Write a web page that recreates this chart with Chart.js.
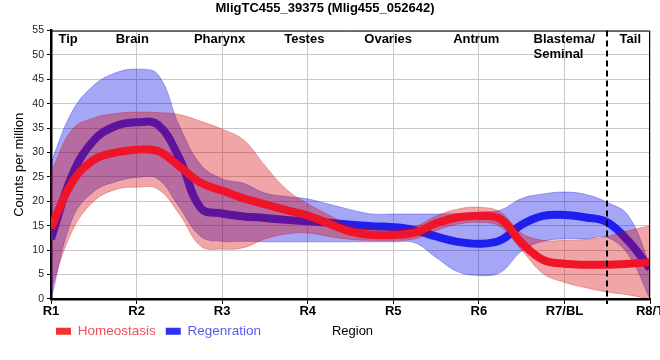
<!DOCTYPE html>
<html lang="en">
<head>
<meta charset="UTF-8">
<title>MligTC455_39375</title>
<script src="https://cdn.jsdelivr.net/npm/chart.js"></script>
<style>
body { margin: 0; padding: 0; background: #fff; overflow: hidden; }
#wrap { width: 660px; height: 360px; }
</style>
</head>
<body>
<div id="wrap"><canvas id="geneChart" width="660" height="360"></canvas></div>
<script>
// positions along the body, 0 = R1 ... 7 = R8/T
const xs = [0, 0.25, 0.5, 0.75, 1, 1.25, 1.5, 1.75, 2, 2.25, 2.5, 2.75, 3, 3.25, 3.5, 3.75,
            4, 4.25, 4.5, 4.75, 5, 5.25, 5.5, 5.75, 6, 6.25, 6.5, 6.75, 7];
const tickLabels = ['R1', 'R2', 'R3', 'R4', 'R5', 'R6', 'R7/BL', 'R8/T'];
const regionNames = ['Tip', 'Brain', 'Pharynx', 'Testes', 'Ovaries', 'Antrum', ['Blastema/', 'Seminal'], 'Tail'];
const seriesNames = ['Homeostasis', 'Regenration'];

const homeoMean = [14.5, 24, 28.5, 30, 30.6, 30.3, 27.2, 23.8, 22.2, 20.6, 19.4, 18.2, 17.1, 15.4, 13.8, 13.1,
                   13.1, 13.6, 15.5, 16.7, 17, 16.4, 11.5, 8, 7.2, 7, 7, 7.2, 7.5];
const homeoHigh = [26, 34.8, 37.1, 38, 38.3, 38.2, 37.8, 36.4, 34.8, 32.6, 27.3, 22.5, 19.5, 17.2, 15, 14.4,
                   14.3, 14.8, 17, 18.4, 18.8, 17.8, 13.5, 12, 12, 12.2, 12.8, 14, 15];
const homeoLow  = [2, 14, 20, 22.4, 22.9, 22.5, 17.4, 10.8, 10.2, 10.5, 12.3, 13.3, 13.5, 12.8, 12.2, 12,
                   12, 12.3, 14, 15.3, 15.7, 14.8, 10, 5.2, 3.4, 2.3, 1.4, 0.8, 0];
const regenMean = [12.3, 25.5, 32.5, 35.4, 36.2, 35.7, 28.8, 18.6, 17.5, 16.9, 16.6, 16.2, 15.9, 15.6, 15.2, 14.9,
                   14.7, 14.1, 12.8, 11.7, 11.3, 12, 15.2, 17, 17.2, 16.7, 15.7, 11.8, 6.2];
const regenHigh = [28, 38.5, 43.8, 46.3, 47.1, 46, 35.5, 27.5, 24.6, 23.7, 21.7, 21, 20.5, 19.4, 18.3, 17.4,
                   17.4, 17.4, 17.4, 17.5, 17.8, 18.2, 20.6, 21.5, 21.9, 21.4, 19.8, 17, 7];
const regenLow  = [0, 16.5, 22, 24, 24.9, 24.6, 18.8, 12.8, 11.8, 11.8, 11.7, 11.7, 11.7, 11.7, 11.7, 11.7,
                   11.7, 11.5, 8.5, 5.6, 4.8, 5.4, 9.8, 11.8, 12.3, 12.3, 12.6, 9, 0];

const FONT = "'Liberation Sans', Arial, sans-serif";

function pts(vals) {
  return xs.map((x, i) => ({ x: x, y: vals[i] }));
}

// dashed divider, frame, region names and the x title
const overlay = {
  id: 'overlay',
  afterLayout(chart) {
    chart.legend.left -= 5;
    chart.legend.top -= 5;
  },
  afterDatasetsDraw(chart) {
    const c = chart.ctx;
    const a = chart.chartArea;
    const xs_ = chart.scales.x;
    c.save();
    // frame top / right
    c.strokeStyle = '#000';
    c.lineWidth = 1;
    c.beginPath();
    c.moveTo(a.left, a.top + 0.5);
    c.lineTo(a.right - 0.5, a.top + 0.5);
    c.lineTo(a.right - 0.5, a.bottom);
    c.stroke();
    // dashed line between blastema and tail
    const dx = Math.round(xs_.getPixelForValue(6.5));
    c.lineWidth = 2;
    c.setLineDash([6, 4]);
    c.beginPath();
    c.moveTo(dx, a.top);
    c.lineTo(dx, a.bottom + 5);
    c.stroke();
    c.setLineDash([]);
    // region names
    const at = [0.2, 0.95, 1.97, 2.96, 3.94, 4.97, 5.64, 6.77];
    c.fillStyle = '#000';
    c.font = 'bold 13px ' + FONT;
    c.textBaseline = 'alphabetic';
    regionNames.forEach((name, i) => {
      const px = xs_.getPixelForValue(at[i]);
      if (Array.isArray(name)) {
        c.textAlign = 'left';
        name.forEach((line, j) => c.fillText(line, px, a.top + 12.5 + j * 14.5));
      } else {
        c.textAlign = 'center';
        c.fillText(name, px, a.top + 12.5);
      }
    });
    // x axis title sits on the legend row
    c.font = '13px ' + FONT;
    c.textAlign = 'center';
    c.textBaseline = 'middle';
    c.fillText('Region', (a.left + a.right) / 2 + 2, 331);
    c.restore();
  }
};

const ctx = document.getElementById('geneChart').getContext('2d');
const geneChart = new Chart(ctx, {
  type: 'line',
  data: {
    datasets: [
      { label: seriesNames[0], data: pts(homeoMean), borderColor: 'rgb(240,20,40)', borderWidth: 8, fill: false },
      { label: 'homeoHigh', data: pts(homeoHigh), borderColor: 'rgba(212,0,0,0.3)', borderWidth: 1,
        backgroundColor: 'rgba(212,0,0,0.35)', fill: '+1' },
      { label: 'homeoLow', data: pts(homeoLow), borderColor: 'rgba(212,0,0,0.3)', borderWidth: 1, fill: false },
      { label: seriesNames[1], data: pts(regenMean), borderColor: 'rgb(30,30,240)', borderWidth: 8, fill: false },
      { label: 'regenHigh', data: pts(regenHigh), borderColor: 'rgba(0,0,230,0.3)', borderWidth: 1,
        backgroundColor: 'rgba(0,0,230,0.35)', fill: '+1' },
      { label: 'regenLow', data: pts(regenLow), borderColor: 'rgba(0,0,230,0.3)', borderWidth: 1, fill: false }
    ]
  },
  options: {
    responsive: false,
    animation: false,
    devicePixelRatio: 1,
    layout: { padding: { left: 0, right: 10, top: 0, bottom: 7 } },
    elements: {
      point: { radius: 0 },
      line: { tension: 0.4, borderCapStyle: 'butt', borderJoinStyle: 'round' }
    },
    scales: {
      x: {
        type: 'linear',
        min: 0,
        max: 7,
        afterFit: (s) => { s.paddingLeft = 0; s.paddingRight = 0; },
        ticks: {
          stepSize: 1,
          padding: 0,
          color: '#000',
          font: { family: FONT, size: 13, weight: 'bold' },
          maxRotation: 0,
          callback: (v) => tickLabels[v]
        },
        grid: { color: '#c8c8c8', lineWidth: 1, tickLength: 5, tickColor: '#000' },
        border: { color: '#000', width: 2.5 }
      },
      y: {
        min: 0,
        max: 55,
        afterFit: (s) => { s.width = 51; },
        ticks: {
          stepSize: 5,
          padding: 3,
          color: '#222',
          font: { family: FONT, size: 10.5 }
        },
        grid: { color: '#c8c8c8', lineWidth: 1, tickLength: 4, tickColor: '#000' },
        border: { color: '#000', width: 2.5 },
        title: {
          display: true,
          text: 'Counts per million',
          color: '#000',
          font: { family: FONT, size: 13 },
          padding: { top: 12, bottom: 0 }
        }
      }
    },
    plugins: {
      title: {
        display: true,
        text: 'MligTC455_39375 (Mlig455_052642)',
        color: '#000',
        font: { family: FONT, size: 13, weight: 'bold' },
        padding: { top: 1, bottom: 14 }
      },
      legend: {
        position: 'bottom',
        align: 'start',
        fullSize: false,
        labels: {
          boxWidth: 15,
          boxHeight: 7,
          padding: 10,
          font: { family: FONT, size: 13.5 },
          generateLabels: () => [
            { text: seriesNames[0], fillStyle: '#f53232', strokeStyle: '#f53232', lineWidth: 0,
              fontColor: '#f0505a', hidden: false, datasetIndex: 0 },
            { text: seriesNames[1], fillStyle: '#3232f5', strokeStyle: '#3232f5', lineWidth: 0,
              fontColor: '#5a5af0', hidden: false, datasetIndex: 3 }
          ]
        }
      },
      tooltip: { enabled: false }
    }
  },
  plugins: [overlay]
});
</script>
</body>
</html>
